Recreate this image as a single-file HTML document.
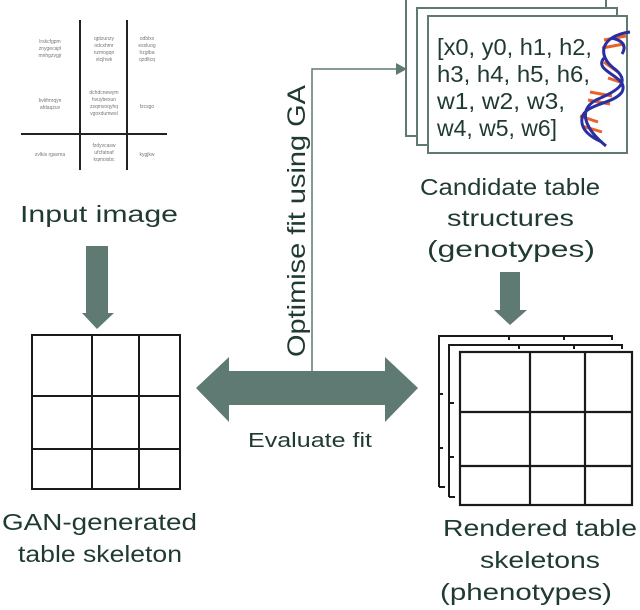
<!DOCTYPE html>
<html><head><meta charset="utf-8"><style>
html,body{margin:0;padding:0;background:#fff;}
svg{display:block;}
text{font-family:"Liberation Sans",sans-serif;fill:#1f3a31;}
</style></head><body>
<svg width="640" height="610" viewBox="0 0 640 610" xmlns="http://www.w3.org/2000/svg">
<!-- input image -->
<g stroke="#222" stroke-width="2">
<line x1="80" y1="20" x2="80" y2="170"/>
<line x1="127" y1="20" x2="127" y2="170"/>
<line x1="21" y1="134" x2="167" y2="134"/>
</g>
<g font-size="5" text-anchor="middle">
<text x="50" y="43" style="fill:#777">lrskcfgpm</text><text x="50" y="50" style="fill:#777">znygecajrl</text><text x="50" y="57" style="fill:#777">mnhgzvgjr</text>
<text x="104" y="40" style="fill:#777">qptzunzy</text><text x="104" y="47" style="fill:#777">odcxhmr</text><text x="104" y="54" style="fill:#777">nzmogqn</text><text x="104" y="61" style="fill:#777">vtcjhwk</text>
<text x="147" y="40" style="fill:#777">odblxx</text><text x="147" y="47" style="fill:#777">essluog</text><text x="147" y="54" style="fill:#777">hzgtba</text><text x="147" y="61" style="fill:#777">qzdltcq</text>
<text x="50" y="102" style="fill:#777">bvlifmrqyn</text><text x="50" y="109" style="fill:#777">afdaqzuv</text>
<text x="104" y="94" style="fill:#777">dchdcnewym</text><text x="104" y="101" style="fill:#777">hvuybexun</text><text x="104" y="108" style="fill:#777">zsqmvoqyhq</text><text x="104" y="115" style="fill:#777">vgoxdumwel</text>
<text x="147" y="108" style="fill:#777">fzcsgo</text>
<text x="50" y="156" style="fill:#777">zvlkis rgavma</text>
<text x="104" y="147" style="fill:#777">fzdyvcasw</text><text x="104" y="154" style="fill:#777">ufcfatnaf</text><text x="104" y="161" style="fill:#777">kqmoisbc</text>
<text x="147" y="156" style="fill:#777">kygjkw</text>
</g>
<text x="20" y="222" font-size="23" textLength="158" lengthAdjust="spacingAndGlyphs">Input image</text>
<!-- down arrow left -->
<polygon points="86,246 108,246 108,313 114,313 97,329 82,313 86,313" fill="#5f7a72"/>
<!-- left grid -->
<g stroke="#1a1a1a" stroke-width="2" fill="none">
<rect x="32" y="335" width="148" height="154"/>
<line x1="92" y1="335" x2="92" y2="489"/>
<line x1="139" y1="335" x2="139" y2="489"/>
<line x1="32" y1="396" x2="180" y2="396"/>
<line x1="32" y1="449" x2="180" y2="449"/>
</g>
<text x="2" y="530" font-size="23" textLength="195" lengthAdjust="spacingAndGlyphs">GAN-generated</text>
<text x="18" y="562" font-size="23" textLength="164" lengthAdjust="spacingAndGlyphs">table skeleton</text>
<!-- double arrow -->
<polygon points="196,388 229,357 229,371 385,371 385,357 418,388 385,422 385,405 229,405 229,422" fill="#5f7a72"/>
<!-- GA connector -->
<polyline points="312,371 312,69 398,69" fill="none" stroke="#5f7a72" stroke-width="1.5"/>
<polygon points="396,63 407,69 396,75" fill="#5f7a72"/>
<text transform="translate(305,357) rotate(-90)" font-size="25" textLength="272" lengthAdjust="spacingAndGlyphs">Optimise fit using GA</text>
<text x="248" y="447" font-size="20" textLength="124" lengthAdjust="spacingAndGlyphs">Evaluate fit</text>
<!-- cards -->
<g fill="#fff" stroke="#5f7a72" stroke-width="2">
<rect x="406" y="-2" width="200" height="138"/>
<rect x="417" y="8" width="200" height="137"/>
<rect x="428" y="16" width="199" height="137"/>
</g>
<g font-size="23">
<text x="437" y="55" textLength="155" lengthAdjust="spacingAndGlyphs">[x0, y0, h1, h2,</text>
<text x="437" y="82" textLength="153" lengthAdjust="spacingAndGlyphs">h3, h4, h5, h6,</text>
<text x="437" y="109" textLength="128" lengthAdjust="spacingAndGlyphs">w1, w2, w3,</text>
<text x="437" y="136" textLength="120" lengthAdjust="spacingAndGlyphs">w4, w5, w6]</text>
</g>
<!-- DNA -->
<g stroke="#e8622a" stroke-width="3">
<line x1="604" y1="40" x2="626" y2="36"/><line x1="602" y1="48" x2="624" y2="44"/>
<line x1="604" y1="62" x2="618" y2="72"/><line x1="608" y1="78" x2="620" y2="82"/>
<line x1="590" y1="92" x2="612" y2="96"/><line x1="588" y1="100" x2="610" y2="104"/>
<line x1="580" y1="116" x2="598" y2="122"/><line x1="582" y1="126" x2="602" y2="132"/>
</g>
<g fill="none" stroke="#2a2ea0" stroke-width="3">
<path d="M630,32 C600,36 596,56 616,70 C632,84 614,92 596,100 C578,110 584,128 606,146"/>
<path d="M622,54 C628,44 620,40 612,38 M604,58 C592,72 630,76 622,92 C614,104 584,104 582,118 C580,130 592,138 602,142"/>
</g>
<text x="420" y="195" font-size="23" textLength="180" lengthAdjust="spacingAndGlyphs">Candidate table</text>
<text x="447" y="226" font-size="23" textLength="127" lengthAdjust="spacingAndGlyphs">structures</text>
<text x="427" y="257" font-size="23" textLength="168" lengthAdjust="spacingAndGlyphs">(genotypes)</text>
<!-- down arrow right -->
<polygon points="500,272 520,272 520,310 527,310 510,325 494,310 500,310" fill="#5f7a72"/>
<!-- right stacked grids -->
<g stroke="#1a1a1a" stroke-width="2" fill="none">
<polyline points="439,487 439,336 612,336 612,340"/>
<line x1="509" y1="336" x2="509" y2="340"/><line x1="564" y1="336" x2="564" y2="340"/>
<line x1="439" y1="394" x2="443" y2="394"/><line x1="439" y1="448" x2="443" y2="448"/>
<line x1="439" y1="487" x2="445" y2="487"/>
<polyline points="449,497 449,345 622,345 622,349"/>
<line x1="519" y1="345" x2="519" y2="349"/><line x1="574" y1="345" x2="574" y2="349"/>
<line x1="449" y1="403" x2="454" y2="403"/><line x1="449" y1="457" x2="454" y2="457"/>
<line x1="449" y1="497" x2="455" y2="497"/>
</g>
<g stroke="#1a1a1a" stroke-width="2.2" fill="#fff">
<rect x="460" y="352" width="172" height="153"/>
</g>
<g stroke="#1a1a1a" stroke-width="2.2">
<line x1="530" y1="352" x2="530" y2="505"/>
<line x1="585" y1="352" x2="585" y2="505"/>
<line x1="460" y1="412" x2="632" y2="412"/>
<line x1="460" y1="466" x2="632" y2="466"/>
</g>
<text x="443" y="536" font-size="23" textLength="194" lengthAdjust="spacingAndGlyphs">Rendered table</text>
<text x="480" y="568" font-size="23" textLength="120" lengthAdjust="spacingAndGlyphs">skeletons</text>
<text x="440" y="600" font-size="23" textLength="172" lengthAdjust="spacingAndGlyphs">(phenotypes)</text>
</svg>
</body></html>
